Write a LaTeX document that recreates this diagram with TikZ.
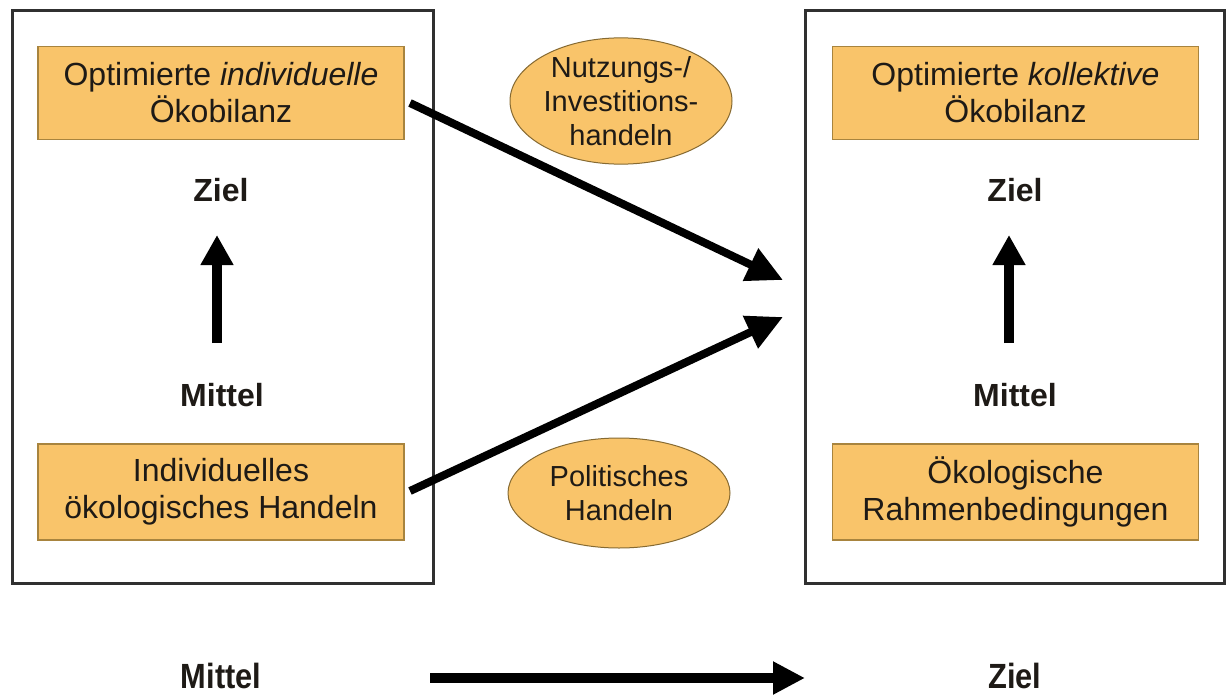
\documentclass[tikz,border=0pt]{standalone}
\usepackage{fontspec}
\usepackage{graphicx}
\setmainfont{Liberation Sans}
\usetikzlibrary{arrows.meta,shapes.geometric}
\definecolor{orfill}{HTML}{F9C46A}
\definecolor{ordraw}{HTML}{A8843E}
\definecolor{txt}{HTML}{1E1A16}
\definecolor{frame}{HTML}{303030}
\tikzset{
  bigframe/.style={draw=frame, line width=3pt, fill=white, inner sep=0pt, minimum width=#1, minimum height=573pt},
  orbox/.style={draw=ordraw, line width=1.4pt, fill=orfill, inner sep=0pt, minimum width=366pt, minimum height=#1, align=center, text=txt, font=\fontsize{32}{37}\selectfont},
  orell/.style={ellipse, draw=ordraw!80!black, line width=1pt, fill=orfill, inner sep=0pt, minimum width=222pt, minimum height=#1, align=center, text=txt, font=\fontsize{29}{34}\selectfont},
  lbl/.style={font=\fontsize{32}{37}\selectfont\bfseries, text=txt, inner sep=0pt},
  blbl/.style={font=\fontsize{35}{38}\selectfont\bfseries, text=txt, inner sep=0pt, anchor=base},
  diagarr/.style={line width=8pt, -{Triangle[length=36pt,width=34pt]}},
  uparr/.style={line width=10pt, -{Triangle[length=30pt,width=31pt]}},
  botarr/.style={line width=10pt, -{Triangle[length=32pt,width=31pt]}},
}
\begin{document}
\begin{tikzpicture}[x=1pt,y=-1pt]
\useasboundingbox (0,0) rectangle (1226,696);
\fill[white] (0,0) rectangle (1226,696);

% big frames
\node[bigframe=421pt] (frameL) at (222.5,296.5) {};
\node[bigframe=419pt] (frameR) at (1014.5,296.5) {};

% left column
\node[orbox=93pt] (oTL) at (221,93) {Optimierte \textit{individuelle}\\Ökobilanz};
\node[lbl] (zL) at (221,190) {Ziel};
\node[lbl] (mL) at (222,395) {Mittel};
\node[orbox=96pt] (oBL) at (221,492) {Individuelles\\ökologisches Handeln};

% right column
\node[orbox=93pt] (oTR) at (1015.5,93) {Optimierte \textit{kollektive}\\Ökobilanz};
\node[lbl] (zR) at (1015,190) {Ziel};
\node[lbl] (mR) at (1015,395) {Mittel};
\node[orbox=96pt] (oBR) at (1015.5,492) {Ökologische\\Rahmenbedingungen};

% ellipses
\node[orell=116pt] (eTop) at (621,101) {Nutzungs-/\\Investitions-\\handeln};
\node[orell=110pt] (eBot) at (619,493) {Politisches\\Handeln};

% up arrows inside frames
\coordinate (uL0) at (217,343);
\coordinate (uL1) at (217,235);
\coordinate (uR0) at (1009,343);
\coordinate (uR1) at (1009,235);
\draw[uparr] (uL0) -- (uL1);
\draw[uparr] (uR0) -- (uR1);

% diagonal arrows
\coordinate (d1s) at (410,103);
\coordinate (d1t) at (783,280);
\coordinate (d2s) at (410,491);
\coordinate (d2t) at (783,317);
\draw[diagarr] (d1s) -- (d1t);
\draw[diagarr] (d2s) -- (d2t);

% bottom line
\node[blbl] (bM) at (221,688) {\scalebox{0.88}[1]{Mittel}};
\node[blbl] (bZ) at (1015,688) {\scalebox{0.88}[1]{Ziel}};
\coordinate (bs) at (430,678);
\coordinate (bt) at (805,678);
\draw[botarr] (bs) -- (bt);
\end{tikzpicture}
\end{document}
